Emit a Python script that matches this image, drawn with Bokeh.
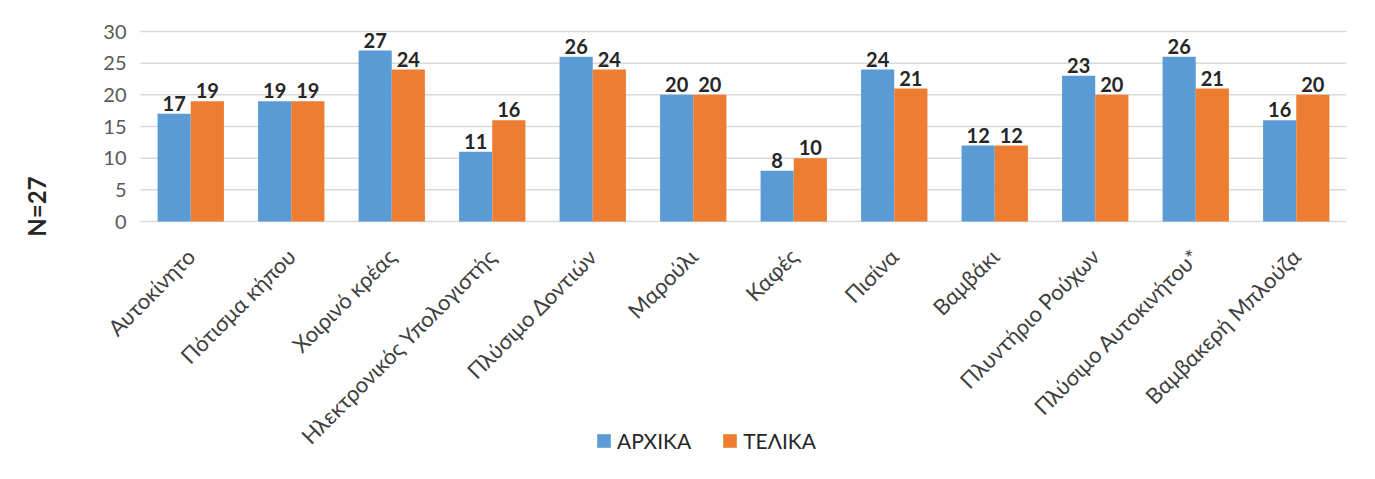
import math
from bokeh.plotting import figure
from bokeh.models import ColumnDataSource, Range1d, Legend, LegendItem, FixedTicker, Label
from bokeh.core.properties import value
from bokeh.embed import file_html
from bokeh.resources import INLINE

categories = ["Αυτοκίνητο", "Πότισμα κήπου", "Χοιρινό κρέας", "Ηλεκτρονικός Υπολογιστής",
              "Πλύσιμο Δοντιών", "Μαρούλι", "Καφές", "Πισίνα", "Βαμβάκι",
              "Πλυντήριο Ρούχων", "Πλύσιμο Αυτοκινήτου*", "Βαμβακερή Μπλούζα"]
arxika = [17, 19, 27, 11, 26, 20, 8, 24, 12, 23, 26, 16]
telika = [19, 19, 24, 16, 24, 20, 10, 21, 12, 20, 21, 20]
series_names = ["ΑΡΧΙΚΑ", "ΤΕΛΙΚΑ"]
y_ticks = [0, 5, 10, 15, 20, 25, 30]
n_label = "N=27"

BLUE = "#5B9BD5"
ORANGE = "#ED7D31"
GRID = "#D9D9D9"
FONT = "Lato"
FS = "20px"

n = len(categories)
centers = [i + 0.5 for i in range(n)]
bw = 0.33

src = ColumnDataSource(dict(
    xa=[c - bw / 2 for c in centers], xt=[c + bw / 2 for c in centers],
    a=arxika, t=telika,
    a_lbl=[str(v) for v in arxika], t_lbl=[str(v) for v in telika],
))
grid_src = ColumnDataSource(dict(x0=[0] * len(y_ticks), x1=[n] * len(y_ticks),
                                 y=y_ticks))

# layout: the plotting frame covers the canvas; the category block spans px 140..1346,
# value 0 sits at px 221 and 30 at px 31
W, H = 1370, 475
PLOT_L, PLOT_R, Y0_PX, Y30_PX = 140, 1346, 221, 31
PX_X = (PLOT_R - PLOT_L) / n
PX_Y = (Y0_PX - Y30_PX) / max(y_ticks)
x_start = -PLOT_L / PX_X
y_start = -(H - Y0_PX) / PX_Y
y_end = max(y_ticks) + Y30_PX / PX_Y

p = figure(width=W, height=H, x_range=Range1d(x_start, n), y_range=Range1d(y_start, y_end),
           output_backend="svg", toolbar_location=None,
           min_border_left=0, min_border_right=W - PLOT_R,
           min_border_top=0, min_border_bottom=0)
p.outline_line_color = None
p.background_fill_color = "white"
p.border_fill_color = "white"
p.xgrid.visible = False
p.ygrid.visible = False

p.segment(x0="x0", x1="x1", y0="y", y1="y", source=grid_src,
          line_color=GRID, line_width=1.5)

r1 = p.vbar(x="xa", top="a", width=bw, source=src, fill_color=BLUE, line_color=None)
r2 = p.vbar(x="xt", top="t", width=bw, source=src, fill_color=ORANGE, line_color=None)

for col, xcol, ycol in (("a_lbl", "xa", "a"), ("t_lbl", "xt", "t")):
    p.text(x=xcol, y=ycol, text=col, source=src,
           text_align="center", text_baseline="bottom", y_offset=-3,
           text_font=value(FONT), text_font_size=FS, text_font_style="bold",
           text_color="#262626")

ya = p.yaxis[0]
ya.fixed_location = 0
ya.ticker = FixedTicker(ticks=y_ticks)
ya.axis_line_color = None
ya.major_tick_line_color = None
ya.minor_tick_line_color = None
ya.major_tick_out = 0
ya.major_tick_in = 0
ya.major_label_text_font = FONT
ya.major_label_text_font_size = FS
ya.major_label_text_color = "#595959"
ya.major_label_standoff = 14

xa = p.xaxis[0]
xa.fixed_location = 0
xa.ticker = FixedTicker(ticks=centers)
xa.major_label_overrides = {c: name for c, name in zip(centers, categories)}
xa.axis_line_color = None
xa.major_tick_line_color = None
xa.minor_tick_line_color = None
xa.major_tick_out = 0
xa.major_tick_in = 0
xa.major_label_orientation = math.pi / 4
xa.major_label_text_font = FONT
xa.major_label_text_font_size = "22px"
xa.major_label_text_color = "#404040"
xa.major_label_standoff = 31

legend = Legend(items=[LegendItem(label=series_names[0], renderers=[r1]),
                       LegendItem(label=series_names[1], renderers=[r2])],
                orientation="horizontal", location=(595, 22),
                border_line_color=None, background_fill_alpha=0,
                label_text_font=FONT, label_text_font_size="21px",
                label_text_color="#262626", glyph_width=17, glyph_height=17,
                spacing=30, padding=0, margin=0, label_standoff=5)
p.add_layout(legend, "center")

p.add_layout(Label(x=x_start + 36 / PX_X, y=(Y0_PX - 206) / PX_Y, text=n_label,
                   angle=math.pi / 2, text_align="center", text_baseline="middle",
                   text_font=FONT, text_font_size="24px", text_font_style="bold",
                   text_color="#262626"))

open("out.html", "w").write(file_html(p, INLINE))
